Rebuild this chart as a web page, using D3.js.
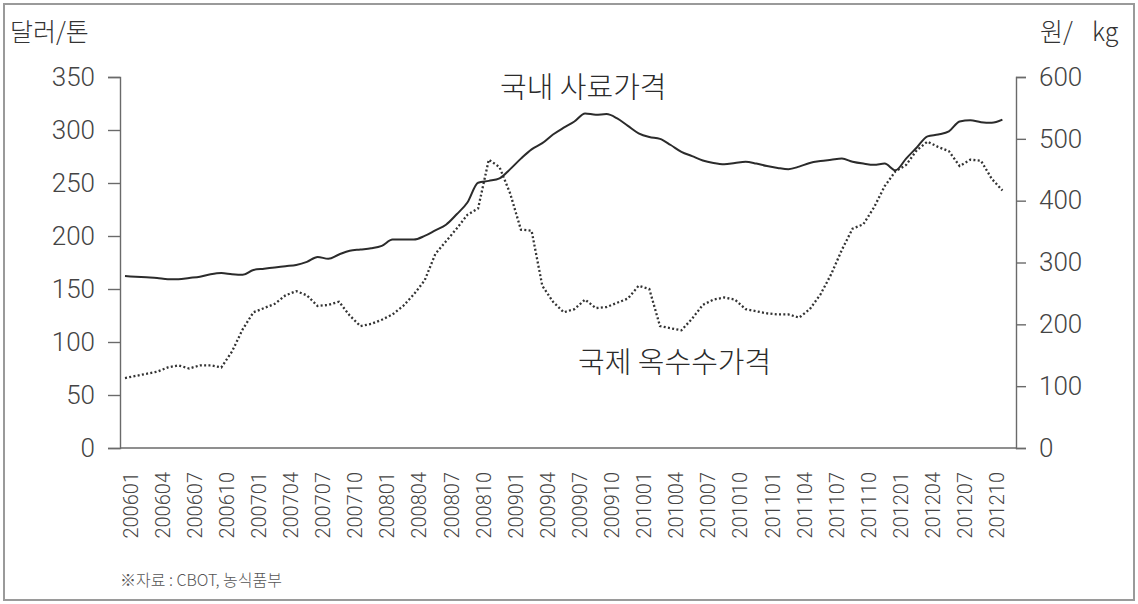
<!DOCTYPE html>
<html>
<head>
<meta charset="utf-8">
<script src="https://cdn.jsdelivr.net/npm/d3@7"></script>
<style>
    body { margin: 0; background: #fff; }
    svg text { font-family: Roboto, "Liberation Sans", sans-serif; }
    .kr { font-family: "Noto Sans CJK KR", sans-serif; }
</style>
</head>
<body>
<div id="chart"></div>
<script>

// months 200601 ~ 201212 (category axis)
const months = d3.timeMonth.range(new Date(2006, 0, 1), new Date(2013, 0, 1))
    .map(d3.timeFormat("%Y%m"));

const tickLabels = ["200601", "200604", "200607", "200610", "200701", "200704", "200707",
    "200710", "200801", "200804", "200807", "200810", "200901", "200904", "200907",
    "200910", "201001", "201004", "201007", "201010", "201101", "201104", "201107",
    "201110", "201201", "201204", "201207", "201210"];

const leftTicks = [0, 50, 100, 150, 200, 250, 300, 350];
const rightTicks = [0, 100, 200, 300, 400, 500, 600];

// 국내 사료가격 (원/kg, right axis)
const feedPrice = [278, 277, 276, 275, 273, 273, 275, 277, 281, 283, 281, 280, 288, 290, 292, 294, 296, 301,
    309, 306, 313, 319, 321, 323, 327, 337, 337, 337, 343, 352, 361, 378, 397, 429, 432,
    436, 451, 468, 483, 493, 507, 518, 528, 541, 539, 540, 533, 521, 509, 503, 500, 490,
    479, 472, 465, 461, 459, 461, 463, 460, 456, 453, 451, 455, 461, 464, 466, 468, 463,
    460, 458, 460, 449, 468, 486, 504, 507, 512, 528, 530, 527, 526, 531];

// 국제 옥수수가격 (달러/톤, left axis)
const cornPrice = [66, 68, 70, 72, 76, 78, 75, 78, 78, 76, 91, 112, 128, 132, 136, 144, 148, 144,
    134, 135, 138, 125, 115, 117, 121, 126, 134, 145, 158, 183, 195, 207, 220, 226, 272,
    265, 240, 206, 205, 153, 138, 128, 131, 140, 132, 133, 137, 141, 153, 150, 115, 113,
    111, 122, 135, 140, 142, 140, 131, 129, 127, 126, 126, 123, 131, 145, 164, 187, 207,
    211, 227, 247, 261, 267, 281, 289, 284, 280, 266, 272, 271, 254, 243];

const width = 1138,
    height = 604,
    plot = { left: 120, right: 1016, top: 77, bottom: 448 };

let svg = d3.select("#chart")
    .append("svg")
    .attr("width", width)
    .attr("height", height);

// outer frame
svg.append("rect")
    .attr("x", 4).attr("y", 4)
    .attr("width", 1130).attr("height", 596)
    .attr("fill", "none")
    .attr("stroke", "#9a9a9a")
    .attr("stroke-width", 2);

let x = d3.scalePoint()
    .domain(months)
    .range([125, 125 + 10.7 * (months.length - 1)]);

let yL = d3.scaleLinear().domain([0, 350]).range([plot.bottom, plot.top]);
let yR = d3.scaleLinear().domain([0, 600]).range([plot.bottom, plot.top]);

// left axis
let gl = svg.append("g")
    .attr("transform", `translate(${plot.left},0)`)
    .call(d3.axisLeft(yL).tickValues(leftTicks).tickSize(12).tickPadding(13));

// right axis
let gr = svg.append("g")
    .attr("transform", `translate(${plot.right},0)`)
    .call(d3.axisRight(yR).tickValues(rightTicks).tickSize(10).tickPadding(13));

[gl, gr].forEach(g => {
    g.selectAll("path, line").attr("stroke", "#6a6a6a").attr("stroke-width", 1.4);
    g.selectAll("text")
        .attr("fill", "#444")
        .style("font-size", "26px")
        .style("font-weight", 300);
});

// x axis baseline
svg.append("line")
    .attr("x1", plot.left).attr("x2", plot.right)
    .attr("y1", plot.bottom).attr("y2", plot.bottom)
    .attr("stroke", "#6a6a6a")
    .attr("stroke-width", 1.4);

let gx = svg.append("g")
    .attr("transform", `translate(0,${plot.bottom})`)
    .call(d3.axisBottom(x).tickValues(tickLabels).tickSize(0));
gx.select(".domain").remove();
gx.selectAll(".tick text")
    .attr("transform", "rotate(-90)")
    .attr("text-anchor", "end")
    .attr("x", -24)
    .attr("y", 5)
    .attr("dy", "0.35em")
    .attr("fill", "#444")
    .style("font-size", "20px")
    .style("font-weight", 300);

// lines
let feedLine = d3.line()
    .x((d, i) => x(months[i]))
    .y(d => yR(d))
    .curve(d3.curveMonotoneX);

let cornLine = d3.line()
    .x((d, i) => x(months[i]))
    .y(d => yL(d));

svg.append("path")
    .datum(cornPrice)
    .attr("d", cornLine)
    .attr("fill", "none")
    .attr("stroke", "#333")
    .attr("stroke-width", 2.3)
    .attr("stroke-dasharray", "2,2.3");

svg.append("path")
    .datum(feedPrice)
    .attr("d", feedLine)
    .attr("fill", "none")
    .attr("stroke", "#2b2b2b")
    .attr("stroke-width", 2);

// titles and notes
svg.append("text").attr("class", "kr")
    .attr("x", 10).attr("y", 41)
    .attr("fill", "#333")
    .style("font-size", "25px").style("font-weight", 300)
    .text("달러/톤");

let unitR = svg.append("text").attr("class", "kr")
    .attr("x", 1040).attr("y", 41)
    .attr("fill", "#333")
    .style("font-size", "25px").style("font-weight", 300);
unitR.append("tspan").text("원/");
unitR.append("tspan").attr("x", 1092).text("kg");

svg.append("text").attr("class", "kr")
    .attr("x", 500).attr("y", 98)
    .attr("fill", "#2b2b2b")
    .style("font-size", "29px").style("font-weight", 300)
    .text("국내 사료가격");

svg.append("text").attr("class", "kr")
    .attr("x", 578).attr("y", 373)
    .attr("fill", "#2b2b2b")
    .style("font-size", "29px").style("font-weight", 300)
    .text("국제 옥수수가격");

svg.append("text").attr("class", "kr")
    .attr("x", 120).attr("y", 586)
    .attr("fill", "#555")
    .style("font-size", "16px").style("font-weight", 300)
    .text("※자료 : CBOT, 농식품부");

</script>
</body>
</html>
